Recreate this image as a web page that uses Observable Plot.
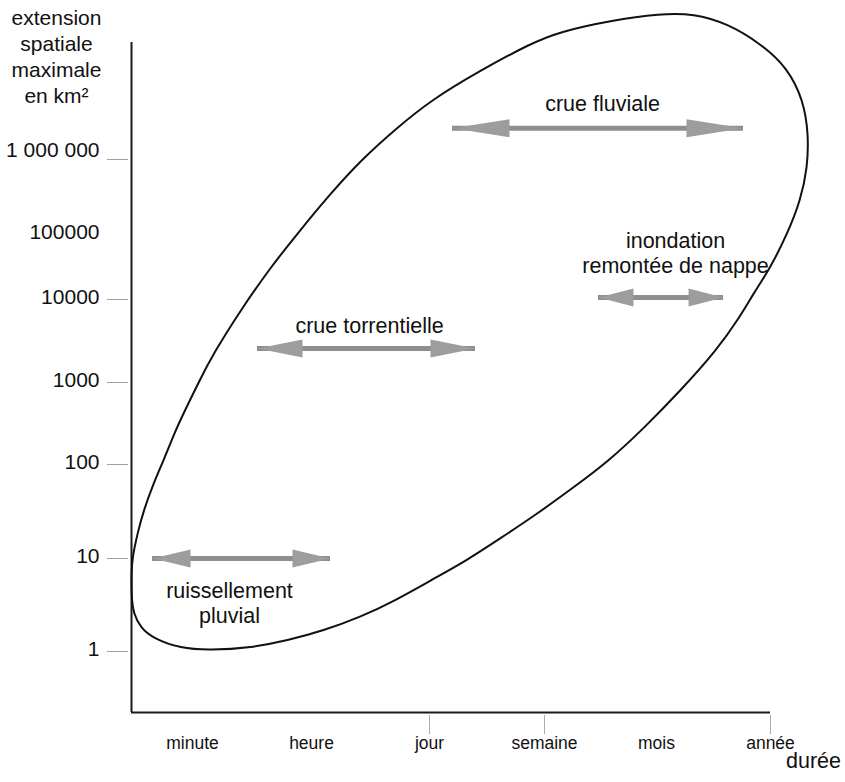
<!DOCTYPE html>
<html><head><meta charset="utf-8">
<script src="https://cdn.jsdelivr.net/npm/d3@7"></script>
<script src="https://cdn.jsdelivr.net/npm/@observablehq/plot@0.6"></script>
<style>
html,body{margin:0;padding:0;background:#fff;}
#chart{width:845px;height:782px;}
svg{display:block;}
</style></head><body><div id="chart"></div>
<script>
// Duration categories (x) and spatial-extent ticks (y, km²)
const durations = ["minute", "heure", "jour", "semaine", "mois", "année"];
const durationIndex = [0, 1, 2, 3, 4, 5];
const xTickMarked = [2, 3, 5];
const yTickValues = [1, 10, 100, 1000, 10000, 100000, 1000000];
const yTickLabels = ["1", "10", "100", "1000", "10000", "100000", "1 000 000"];
const yTickMarked = [1, 10, 100, 1000, 10000, 1000000];

// Phenomena: label position, arrow span (duration index) and level (km²)
const phenomena = ["ruissellement\npluvial", "crue torrentielle", "inondation\nremontée de nappe", "crue fluviale"];
const labelDuration = [0.311, 1.492, 4.167, 3.518];
const labelExtent = [3.37, 4860, 52800, 5560000];
const arrowStart = [-0.334, 0.546, 3.482, 2.2];
const arrowEnd = [1.161, 2.4, 4.588, 4.763];
const arrowExtent = [10, 2570, 10700, 2600000];
const headLength = [38, 45, 35, 57];

// Envelope outline (duration index, km²)
const envelopeDuration = [-0.51,-0.51,-0.502,-0.46,-0.41,-0.326,-0.242,-0.142,-0.075,0.059,0.176,0.403,0.655,0.882,1.161,1.441,1.729,2.009,2.443,2.878,3.143,3.589,4.035,4.325,4.623,4.912,5.149,5.289,5.333,5.325,5.263,5.149,5.0,4.851,4.728,4.526,4.211,3.893,3.58,3.259,2.939,2.626,2.322,2.009,1.703,1.407,1.102,0.798,0.496,0.143,-0.1,-0.326,-0.435,-0.493];
const envelopeExtent = [3.8,7.4,10.3,18.5,32,63,112,260,420,1060,2230,7400,31000,103000,352000,1060000,2670000,6100000,15300000,34900000,50400000,70500000,87300000,87300000,64400000,34900000,16700000,6100000,2220000,782000,284000,103000,31000,12400,6070,2430,798,282,112,57,30,16.7,9.5,5.8,3.5,2.32,1.68,1.31,1.1,1.03,1.08,1.38,1.81,2.56];

const envelope = envelopeDuration.map((d, i) => ({d, e: envelopeExtent[i]}));
const arrows = phenomena.map((p, i) => ({x1: arrowStart[i], x2: arrowEnd[i], y: arrowExtent[i], head: headLength[i]}));
const labels = phenomena.map((p, i) => ({text: p, x: labelDuration[i], y: labelExtent[i]}));
const labelOf = new Map(yTickValues.map((v, i) => [v, yTickLabels[i]]));

const HALF = 9;
const leftHead = {draw(ctx, size) { const L = Math.sqrt(size / Math.PI); ctx.moveTo(0, 0); ctx.lineTo(L, -HALF); ctx.lineTo(L, HALF); ctx.closePath(); }};
const rightHead = {draw(ctx, size) { const L = Math.sqrt(size / Math.PI); ctx.moveTo(0, 0); ctx.lineTo(-L, -HALF); ctx.lineTo(-L, HALF); ctx.closePath(); }};

const xMin = -0.51, xMax = 5, yMin = 0.22, yMax = 3.6e7;
const axisColor = "#1a1a1a";

const chart = Plot.plot({
  width: 845, height: 782,
  marginLeft: 131, marginRight: 75, marginTop: 42, marginBottom: 70,
  style: {fontFamily: "'Liberation Sans', Arial, sans-serif", fontSize: "21px", background: "#fff", color: "#111"},
  x: {type: "linear", domain: [xMin, 0, 1, 2, 3, 4, 5], range: [131, 192, 311, 429, 544, 656, 770], axis: null},
  y: {type: "log", domain: [yMin, 1, 10, 100, 1000, 10000, 100000, 1000000, yMax], range: [712, 651, 558, 464, 382, 299, 234, 159, 42], axis: null},
  r: {type: "identity"},
  marks: [
    // y tick marks (grey, detached from the axis)
    Plot.axisY({ticks: yTickMarked, tickSize: 21, dx: -3, stroke: "#a0a0a0", tickFormat: () => ""}),
    // y tick labels
    Plot.axisY({ticks: yTickValues.filter(v => v !== 1000000), tickSize: 0, tickPadding: 32, dy: -2, fontSize: 21, fill: "#111", tickFormat: v => labelOf.get(v)}),
    Plot.axisY({ticks: [1000000], tickSize: 0, tickPadding: 32, dy: -9, fontSize: 21, fill: "#111", tickFormat: v => labelOf.get(v)}),
    // x ticks and labels
    Plot.axisX({ticks: xTickMarked, tickSize: 19, dy: 3, stroke: "#aaaaaa", tickFormat: () => ""}),
    Plot.axisX({ticks: durationIndex, tickSize: 0, tickPadding: 24, fontSize: 17.5, fill: "#111", tickFormat: i => durations[i]}),
    // axis lines
    Plot.ruleX([xMin], {y1: yMin, y2: yMax, stroke: axisColor, strokeWidth: 2}),
    Plot.ruleY([yMin], {x1: xMin, x2: xMax, stroke: axisColor, strokeWidth: 2}),
    // envelope
    Plot.line(envelope, {x: "d", y: "e", curve: "basis-closed", stroke: "#111", strokeWidth: 2}),
    // double arrows
    Plot.ruleY(arrows, {y: "y", x1: "x1", x2: "x2", stroke: "#8e8e8e", strokeWidth: 5}),
    Plot.dot(arrows, {x: "x1", y: "y", r: "head", symbol: leftHead, fill: "#9d9d9d", stroke: null}),
    Plot.dot(arrows, {x: "x2", y: "y", r: "head", symbol: rightHead, fill: "#9d9d9d", stroke: null}),
    // labels
    Plot.text(labels, {x: "x", y: "y", text: "text", fontSize: 21.5, lineHeight: 1.15, fill: "#111"}),
    // axis titles
    Plot.text(["extension\nspatiale\nmaximale\nen km²"], {text: d => d, frameAnchor: "top-left", dx: -75, dy: 13, textAnchor: "middle", lineAnchor: "middle", lineHeight: 1.24, fontSize: 21, fill: "#111"}),
    Plot.text(["durée"], {text: d => d, frameAnchor: "bottom-right", dx: 43, dy: 55, textAnchor: "middle", fontSize: 21.5, fill: "#111"})
  ]
});
document.getElementById("chart").appendChild(chart);
</script>
</body></html>
